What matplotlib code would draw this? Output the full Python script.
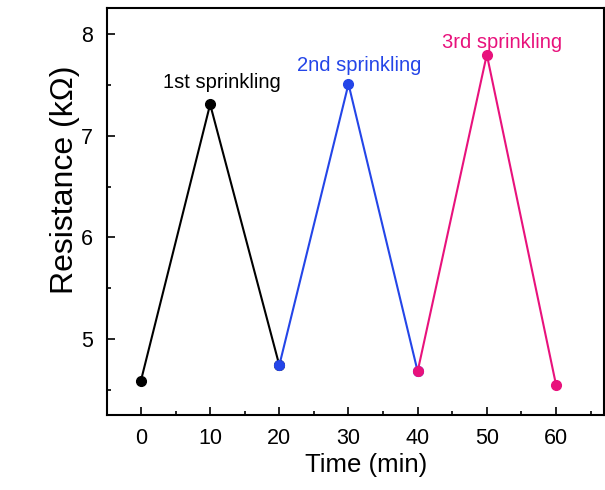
import matplotlib
matplotlib.use("Agg")
import matplotlib.pyplot as plt
from matplotlib.ticker import MultipleLocator

plt.rcParams['font.family'] = ['Liberation Sans', 'DejaVu Sans']

seg_x = [[0, 10, 20], [20, 30, 40], [40, 50, 60]]
seg_y = [[4.59, 7.31, 4.74], [4.74, 7.51, 4.68], [4.68, 7.80, 4.55]]
colors = ['#000000', '#2445e8', '#e8127c']
labels = ['1st sprinkling', '2nd sprinkling', '3rd sprinkling']
label_pos = [(11.7, 7.52), (31.6, 7.69), (52.2, 7.92)]

fig = plt.figure(figsize=(6.05, 4.9), dpi=100)
ax = fig.add_axes([0.177, 0.153, 0.822, 0.831])

for xs, ys, c in zip(seg_x, seg_y, colors):
    ax.plot(xs, ys, color=c, lw=1.5, zorder=2)
    ax.plot(xs, ys, 'o', color=c, ms=7, zorder=3)

for (tx, ty), lab, c in zip(label_pos, labels, colors):
    ax.text(tx, ty, lab, color=c, fontsize=14.5, ha='center', va='center')

ax.set_xlim(-4.9, 67)
ax.set_ylim(4.25, 8.26)
ax.xaxis.set_major_locator(MultipleLocator(10))
ax.xaxis.set_minor_locator(MultipleLocator(5))
ax.yaxis.set_major_locator(MultipleLocator(1))
ax.yaxis.set_minor_locator(MultipleLocator(0.5))
ax.tick_params(which='both', direction='in', top=False, right=False, labelsize=15.5, width=1.2)
ax.tick_params(axis='y', which='both', pad=10)
ax.tick_params(axis='x', which='both', pad=9)
ax.tick_params(which='major', length=6)
ax.tick_params(which='minor', length=3)
for s in ax.spines.values():
    s.set_linewidth(1.5)
ax.set_xlabel('Time (min)', fontsize=18.5)
ax.set_ylabel('Resistance (k\u03a9)', fontsize=23)
ax.xaxis.set_label_coords(0.52, -0.093)
ax.yaxis.set_label_coords(-0.054, 0.577)

fig.savefig('out.png', dpi=100)
